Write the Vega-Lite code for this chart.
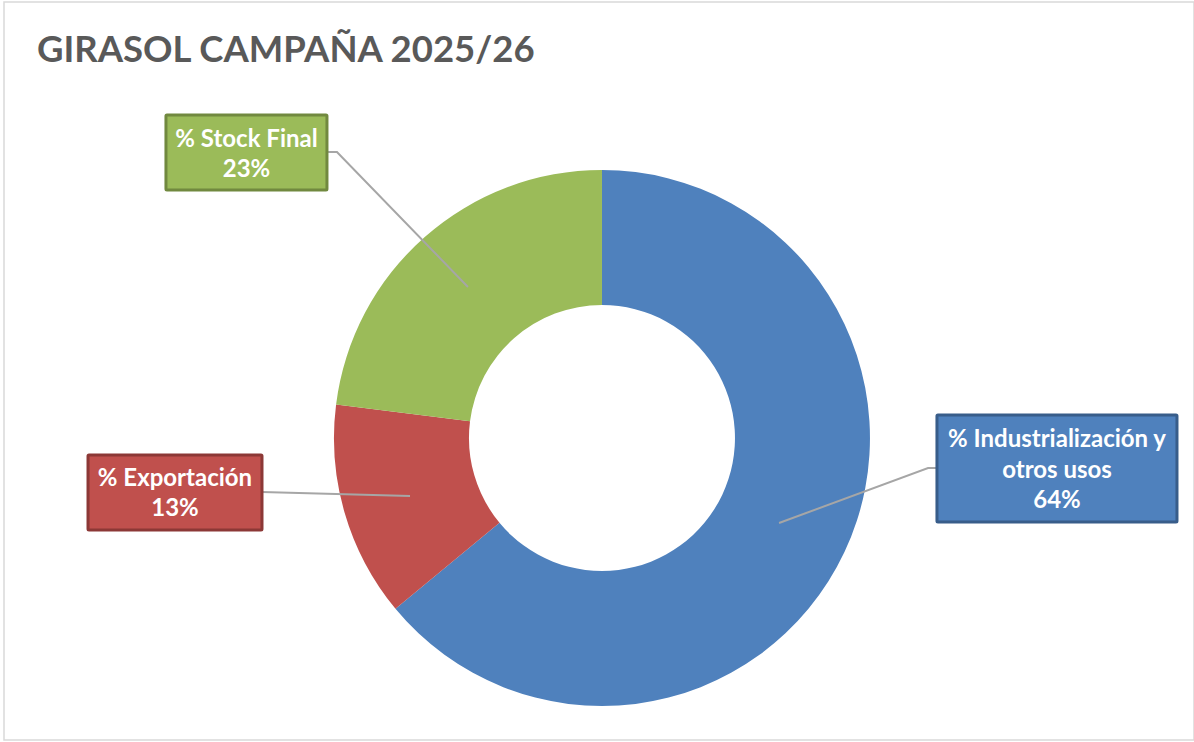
{
  "$schema": "https://vega.github.io/schema/vega-lite/v6.json",
  "autosize": "none",
  "width": 1190,
  "height": 738,
  "padding": {"left": 4, "top": 2, "right": 0, "bottom": 2},
  "background": "white",
  "config": {"view": {"stroke": "#d9d9d9", "strokeWidth": 1.5}},
  "datasets": {
    "titles": [
      {"title": "GIRASOL CAMPAÑA 2025/26", "tx": 2.77, "ty": 8.13}
    ],
    "slices": [
      {"category": "% Industrialización y otros usos", "value": 64, "idx": 1},
      {"category": "% Exportación", "value": 13, "idx": 2},
      {"category": "% Stock Final", "value": 23, "idx": 3}
    ],
    "boxes": [
      {"category": "% Stock Final", "label": "% Stock Final\n23%", "x1": 13.61, "x2": 27.14, "y1": 15.31, "y2": 25.47, "cx": 20.38, "ty": 19.61},
      {"category": "% Exportación", "label": "% Exportación\n13%", "x1": 7.06, "x2": 21.68, "y1": 61.38, "y2": 71.54, "cx": 14.37, "ty": 65.58},
      {"category": "% Industrialización y otros usos", "label": "% Industrialización y\notros usos\n64%", "x1": 78.40, "x2": 98.57, "y1": 55.96, "y2": 70.46, "cx": 88.49, "ty": 60.30}
    ],
    "leaders": [
      {"category": "% Stock Final", "pt": 1, "lx": 27.23, "ly": 20.33},
      {"category": "% Stock Final", "pt": 2, "lx": 27.98, "ly": 20.33},
      {"category": "% Stock Final", "pt": 3, "lx": 38.99, "ly": 38.62},
      {"category": "% Exportación", "pt": 1, "lx": 21.68, "ly": 66.40},
      {"category": "% Exportación", "pt": 2, "lx": 34.12, "ly": 66.94},
      {"category": "% Industrialización y otros usos", "pt": 1, "lx": 78.40, "ly": 63.14},
      {"category": "% Industrialización y otros usos", "pt": 2, "lx": 77.65, "ly": 63.14},
      {"category": "% Industrialización y otros usos", "pt": 3, "lx": 65.13, "ly": 70.60}
    ]
  },
  "layer": [
    {
      "data": {"name": "titles"},
      "mark": {"type": "text", "align": "left", "baseline": "alphabetic",
        "font": "Lato", "fontSize": 36.5, "fontWeight": "bold", "fill": "#595959"},
      "encoding": {
        "x": {"field": "tx", "type": "quantitative", "scale": {"domain": [0, 100]}, "axis": null},
        "y": {"field": "ty", "type": "quantitative", "scale": {"domain": [0, 100], "reverse": true}, "axis": null},
        "text": {"field": "title"}
      }
    },
    {
      "data": {"name": "slices"},
      "mark": {"type": "arc", "innerRadius": 133, "outerRadius": 268},
      "encoding": {
        "x": {"datum": 50.25, "type": "quantitative", "scale": {"domain": [0, 100]}, "axis": null},
        "y": {"datum": 59.08, "type": "quantitative", "scale": {"domain": [0, 100], "reverse": true}, "axis": null},
        "theta": {"field": "value", "type": "quantitative", "stack": true},
        "order": {"field": "idx", "type": "quantitative"},
        "color": {"field": "category", "type": "nominal", "legend": null,
          "scale": {"domain": ["% Industrialización y otros usos", "% Exportación", "% Stock Final"], "range": ["#4f81bd", "#c0504d", "#9bbb59"]}}
      }
    },
    {
      "data": {"name": "leaders"},
      "mark": {"type": "line", "stroke": "#a6a6a6", "strokeWidth": 2},
      "encoding": {
        "x": {"field": "lx", "type": "quantitative", "scale": {"domain": [0, 100]}, "axis": null},
        "y": {"field": "ly", "type": "quantitative", "scale": {"domain": [0, 100], "reverse": true}, "axis": null},
        "detail": {"field": "category"},
        "order": {"field": "pt", "type": "quantitative"}
      }
    },
    {
      "data": {"name": "boxes"},
      "mark": {"type": "rect", "strokeWidth": 3, "cornerRadius": 1},
      "encoding": {
        "x": {"field": "x1", "type": "quantitative", "scale": {"domain": [0, 100]}, "axis": null},
        "x2": {"field": "x2"},
        "y": {"field": "y1", "type": "quantitative", "scale": {"domain": [0, 100], "reverse": true}, "axis": null},
        "y2": {"field": "y2"},
        "color": {"field": "category", "type": "nominal", "legend": null},
        "stroke": {"field": "category", "type": "nominal", "legend": null,
          "scale": {"domain": ["% Industrialización y otros usos", "% Exportación", "% Stock Final"], "range": ["#385d8a", "#8c3836", "#71893f"]}}
      }
    },
    {
      "data": {"name": "boxes"},
      "mark": {"type": "text", "lineBreak": "\n", "lineHeight": 30.5, "baseline": "alphabetic", "align": "center",
        "font": "Lato", "fontSize": 24, "fontWeight": "bold", "fill": "white"},
      "encoding": {
        "x": {"field": "cx", "type": "quantitative", "scale": {"domain": [0, 100]}, "axis": null},
        "y": {"field": "ty", "type": "quantitative", "scale": {"domain": [0, 100], "reverse": true}, "axis": null},
        "text": {"field": "label"}
      }
    }
  ]
}
